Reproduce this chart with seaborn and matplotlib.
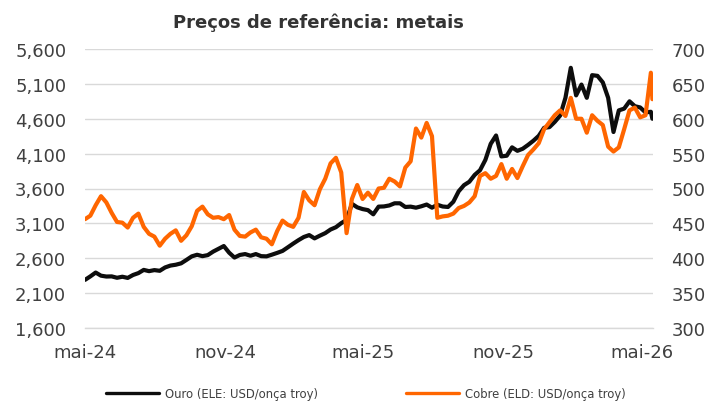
import matplotlib
matplotlib.use("Agg")
import matplotlib.pyplot as plt
from matplotlib.ticker import FuncFormatter
from matplotlib.lines import Line2D
import seaborn as sns
import pandas as pd
from datetime import datetime

start_date = "2024-05-01"
n_weeks = 107
last_date = "2026-05-15"

gold = [2290, 2340, 2395, 2350, 2338, 2340, 2320, 2335, 2318, 2360,
        2387, 2433, 2415, 2430, 2420, 2468, 2495, 2507, 2527, 2576,
        2627, 2650, 2630, 2645, 2695, 2735, 2775, 2680, 2610, 2647,
        2660, 2636, 2660, 2630, 2627, 2651, 2677, 2705, 2757, 2810,
        2860, 2905, 2932, 2885, 2924, 2960, 3012, 3045, 3103, 3150,
        3380, 3330, 3305, 3290, 3230, 3340, 3343, 3357, 3388, 3388,
        3335, 3340, 3325, 3345, 3370, 3325, 3367, 3342, 3335, 3410,
        3560, 3648, 3697, 3795, 3862, 4010, 4240, 4360, 4060, 4070,
        4190, 4140, 4170, 4225, 4285, 4355, 4470, 4480, 4555, 4645,
        4900, 5330, 4935, 5090, 4900, 5225, 5215, 5121, 4900, 4410,
        4720, 4745, 4850, 4780, 4762, 4690, 4700, 4600]

copper = [456, 461, 476, 489, 480, 465, 452, 451, 444, 458,
          464, 445, 435, 431, 418, 428, 435, 440, 425, 433,
          446, 468, 474, 463, 458, 459, 456, 462, 441, 432,
          431, 437, 441, 430, 428, 420, 439, 454, 448, 445,
          458, 495, 483, 476, 499, 514, 536, 544, 523, 436,
          485, 505, 485, 494, 485, 500, 501, 514, 510, 503,
          530, 539, 586, 573, 594, 575, 458, 460, 461, 464,
          472, 475, 480, 489, 518, 522, 514, 518, 535, 514,
          528, 515, 532, 548, 556, 565, 585, 595, 605, 612,
          604, 630, 600, 600, 580, 605, 597, 591, 560, 553,
          559, 585, 612, 616, 602, 605, 666, 628]

gold_label = "Ouro (ELE: USD/onça troy)"
copper_label = "Cobre (ELD: USD/onça troy)"
title = "Preços de referência: metais"
left_ticks = [1600, 2100, 2600, 3100, 3600, 4100, 4600, 5100, 5600]
right_ticks = [300, 350, 400, 450, 500, 550, 600, 650, 700]
x_tick_dates = ["2024-05-01", "2024-11-01", "2025-05-01", "2025-11-01", "2026-05-01"]
x_tick_labels = ["mai-24", "nov-24", "mai-25", "nov-25", "mai-26"]

dates = list(pd.date_range(start_date, periods=n_weeks, freq="7D")) + [pd.Timestamp(last_date)]
df = pd.DataFrame({"date": dates, "gold": gold, "copper": copper})

# ---------------- style ----------------
sns.set_theme(style="white")
plt.rcParams["font.family"] = ["DejaVu Sans"]
txt_color = "#404040"
grid_color = "#d9d9d9"

fig = plt.figure(figsize=(7.16, 4.06), dpi=100)
ax = fig.add_axes([85 / 716, 1 - 329 / 406, (652.7 - 85) / 716, (329 - 50) / 406])
ax2 = ax.twinx()

sns.lineplot(data=df, x="date", y="gold", ax=ax, color="#0d0d0d", linewidth=3.0,
             legend=False)
sns.lineplot(data=df, x="date", y="copper", ax=ax2, color="#ff6600", linewidth=3.0,
             legend=False)

ax.set_xlim(datetime(2024, 5, 1), datetime(2026, 5, 15, 10))
ax.set_ylim(1600, 5600)
ax2.set_ylim(300, 700)
ax.set_yticks(left_ticks)
ax2.set_yticks(right_ticks)
ax.yaxis.set_major_formatter(FuncFormatter(lambda v, p: f"{int(v):,}"))
ax.set_xticks([pd.Timestamp(d) for d in x_tick_dates])
ax.set_xticklabels(x_tick_labels)

ax.grid(axis="y", color=grid_color, linewidth=1.0)
ax.grid(axis="x", visible=False)
ax.set_axisbelow(True)
for a in (ax, ax2):
    for s in ("top", "left", "right", "bottom"):
        a.spines[s].set_visible(False)
    a.set_xlabel("")
    a.set_ylabel("")
ax.spines["bottom"].set_visible(True)
ax.spines["bottom"].set_color(grid_color)
ax.spines["bottom"].set_linewidth(1.0)

ax.tick_params(axis="y", length=0, pad=13.5, labelsize=13, labelcolor=txt_color)
ax2.tick_params(axis="y", length=0, pad=13.5, labelsize=13, labelcolor=txt_color)
ax.tick_params(axis="x", direction="in", length=4.5, width=0.8, color="#bfbfbf",
               pad=11, labelsize=13, labelcolor=txt_color)

fig.text(318 / 716, 1 - 23 / 406, title, ha="center", va="center",
         fontsize=13, fontweight="bold", color="#333333")

handles = [Line2D([], [], color="#0d0d0d", lw=2.4),
           Line2D([], [], color="#ff6600", lw=2.4)]
fig.legend(handles, [gold_label, copper_label], loc="center",
           bbox_to_anchor=(366 / 716, 1 - 395 / 406), ncol=2, frameon=False,
           fontsize=8.4, handlelength=4.5, handletextpad=0.5, columnspacing=7.6,
           labelcolor=txt_color)

fig.savefig("out.png", dpi=100)
